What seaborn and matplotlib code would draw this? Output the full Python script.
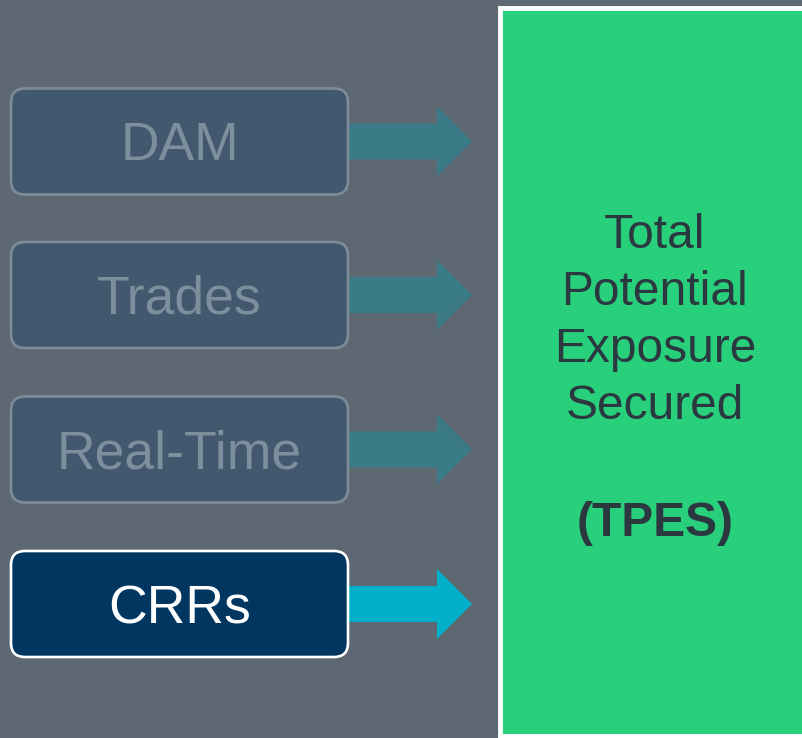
import matplotlib
matplotlib.use("Agg")
import matplotlib.pyplot as plt
import seaborn as sns
from matplotlib.patches import FancyBboxPatch, FancyArrow, Rectangle

# Diagram content
sources = ["DAM", "Trades", "Real-Time", "CRRs"]
highlighted = [False, False, False, True]
target_lines = ["Total", "Potential", "Exposure", "Secured"]
target_abbrev = "(TPES)"

sns.set_theme(style="white")
plt.rcParams['font.family'] = ['Liberation Sans', 'DejaVu Sans']

bg = "#5d6872"
fig = plt.figure(figsize=(8.03, 7.38), dpi=100, facecolor=bg)
ax = fig.add_axes([0, 0, 1, 1])
ax.set_facecolor(bg)
ax.set_xlim(0, 803)
ax.set_ylim(738, 0)
ax.axis("off")

# source boxes with arrows
box_x, box_w, box_h, r = 11, 337, 106, 14
centers = [141.5, 295, 449.5, 604]
for name, hl, cy in zip(sources, highlighted, centers):
    face = "#003660" if hl else "#41586f"
    edge = "white" if hl else "#7e8c99"
    tcol = "white" if hl else "#7d8e9c"
    acol = "#00afc8" if hl else "#3b7a87"
    y0 = cy - box_h / 2
    ax.add_patch(FancyArrow(346, cy, 126, 0, width=36, head_width=70,
                            head_length=35, length_includes_head=True,
                            color=acol, lw=0, zorder=1))
    ax.add_patch(FancyBboxPatch((box_x + r, y0 + r), box_w - 2 * r, box_h - 2 * r,
                                boxstyle=f"round,pad={r}", facecolor=face,
                                edgecolor=edge, lw=1.9, zorder=2))
    ax.text(box_x + box_w / 2, cy + 5, name, color=tcol, fontsize=38.5,
            ha="center", va="center", zorder=3)

# target box
ax.add_patch(Rectangle((500.5, 8), 320, 728, facecolor="#28d07c",
                       edgecolor="white", lw=3.5, zorder=1))
for i, line in enumerate(target_lines):
    ax.text(655, 235 + i * 57.3, line, color="#2b3840", fontsize=34.5,
            ha="center", va="center")
ax.text(655, 524, target_abbrev, color="#2b3840", fontsize=34.5,
        fontweight="bold", ha="center", va="center")

fig.savefig("out.png", dpi=100, facecolor=bg)
